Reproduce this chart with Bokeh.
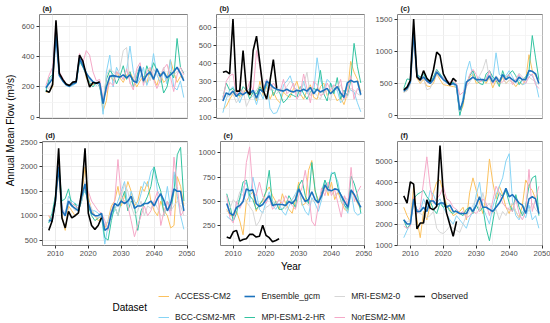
import math
from bokeh.plotting import figure
from bokeh.models import Range1d, FixedTicker, LinearAxis, Grid, Label, Legend, LegendItem
from bokeh.layouts import row, column
from bokeh.embed import file_html
from bokeh.resources import INLINE

# ---------------- data ----------------
years = list(range(2008, 2050))
obs_years = list(range(2008, 2025))
year_ticks = [2010, 2020, 2030, 2040, 2050]

series = ["ACCESS-CM2", "BCC-CSM2-MR", "Ensemble_gcm", "MPI-ESM1-2-HR", "MRI-ESM2-0", "NorESM2-MM", "Observed"]

# (a)
a_access = [165,170,200,600,280,240,215,205,220,230,380,360,260,215,215,230,220, 40,110,280,240,300,260,230,280,300,250,200,240,270,220,320,260,210,290,230,250,380,300,230,270,250]
a_bcc = [190,240,270,560,290,240,210,200,210,225,390,350,300,250,230,210,230, 20,300,410,200,330,280,250,310,470,300,220,260,330,210,270,420,280,230,300,220,380,200,180,240,130]
a_mpi = [170,260,280,610,290,250,215,210,225,230,370,330,280,230,200,230,200, 90,250,310,280,220,270,340,250,300,200,270,340,230,340,280,360,310,280,160,200,300,260,520,330,290]
a_mri = [200,190,230,590,280,250,220,205,220,235,400,350,270,240,230,220,210, 100,280,320,300,280,320,440,460,220,260,300,340,240,290,240,320,280,270,330,250,310,280,300,300,260]
a_nor = [210,280,330,630,300,260,220,210,230,240,420,360,440,410,300,240,250, 120,170,230,210,300,280,250,320,230,180,320,360,210,300,330,250,190,240,320,350,270,170,280,330,280]
a_ens = [195,225,255,540,275,240,215,205,220,230,390,340,290,260,235,225,225, 90,200,270,275,270,265,280,260,280,240,230,335,240,280,300,250,320,270,300,260,280,300,330,290,240]
a_obs = [175,165,215,640,290,250,220,210,232,235,410,370,280,200,230,225,235]

# (b)
b_access = [145,160,200,230,250,210,230,260,220,250,190,300,220,270,200,240,200, 180,240,220,210,260,300,230,200,250,280,210,200,270,290,220,250,230,190,210,170,230,410,350,310,240]
b_bcc = [125,200,250,270,230,180,230,240,260,230,170,240,200,310,150,120,125, 170,280,300,330,270,250,220,300,230,260,240,430,310,250,310,290,260,250,180,200,290,250,240,180,130]
b_mpi = [210,290,250,260,230,220,270,250,200,240,230,270,240,280,300,220,260, 230,180,200,230,220,210,270,230,200,240,260,250,360,230,190,290,230,320,200,250,220,300,510,380,290]
b_mri = [230,210,220,230,180,210,250,160,200,220,250,280,260,240,270,250,230, 260,250,270,300,280,230,260,280,350,220,240,220,200,260,230,190,280,250,280,230,210,260,250,230,220]
b_nor = [200,300,330,340,220,260,230,240,300,240,470,380,250,310,250,290,260, 240,310,230,250,290,200,230,340,260,180,300,280,220,230,290,250,280,260,310,200,230,330,200,260,240]
b_ens = [190,235,225,245,215,235,225,240,230,250,205,255,240,300,285,265,255, 250,245,255,245,240,250,245,255,245,265,230,255,240,250,260,230,250,270,235,210,290,305,295,300,225]
b_obs = [350,355,340,645,245,245,470,250,225,470,550,400,250,200,300,420,260]

# (c)
c_access = [360,400,500,1200,580,500,560,460,450,500,650,560,480,470,460,450,440, 30,150,480,600,650,500,520,550,500,600,430,550,480,600,500,550,520,450,520,480,550,950,700,620,540]
c_bcc = [370,450,550,1250,600,570,620,560,520,580,700,640,600,540,500,490,420, 0,300,680,850,600,550,600,520,580,700,560,980,640,600,620,700,600,520,560,480,500,650,620,520,280]
c_mpi = [420,570,560,1350,650,600,650,560,500,600,720,650,560,540,500,520,480, 0,200,500,620,700,560,500,480,650,700,600,550,450,700,560,650,700,620,480,560,600,700,1250,900,560]
c_mri = [360,380,480,1250,600,520,580,400,420,540,640,600,560,520,480,500,480, 60,220,450,520,600,560,620,720,880,560,500,620,560,620,500,550,520,560,660,600,540,600,560,520,480]
c_nor = [390,440,540,1280,620,560,600,520,500,560,700,620,580,560,520,540,500, 320,360,460,640,720,640,520,560,560,700,500,560,520,520,600,640,480,560,640,540,500,600,650,480,420]
c_ens = [380,420,520,1300,620,560,600,540,500,560,680,620,560,520,480,500,470, 80,220,520,560,600,560,560,560,540,620,520,600,520,640,560,600,560,520,600,560,560,700,690,650,500]
c_obs = [400,440,550,1510,600,550,700,580,530,710,990,940,650,550,475,580,530]

# (d)
d_access = [1000,880,1300,1900,1000,700,1200,1100,1000,1050,1400,2000,1400,1100,1000,900,950, 750,900,1200,1300,1600,1200,1400,1700,1500,1200,1300,1600,1500,1700,1300,1100,1000,1300,1100,1000,750,800,1800,1600,1200]
d_bcc = [900,950,1350,2050,1150,1050,1400,1300,1250,1200,1400,1500,1300,1100,1100,1050,1000, 420,800,1000,1100,1300,1500,1700,1200,1500,1300,1200,1450,1700,1600,1900,2000,1500,1400,1200,1600,1100,1900,1400,1000,720]
d_mpi = [850,1050,1400,2100,1300,1350,1550,1200,1250,1100,1300,1600,1200,1000,900,950,1000, 550,500,900,1200,1000,1300,1500,1100,1300,1200,700,1100,1250,1400,1600,2000,1700,1500,1000,1300,1100,1500,2250,2400,1300]
d_mri = [900,900,1250,2000,1100,1000,1250,1200,1100,1150,1300,1700,1300,1150,1000,950,1000, 800,900,1100,1200,1000,1400,1650,1500,1200,1000,1100,1300,1000,1200,1150,1300,1150,1000,1000,1300,1100,1200,1300,1200,1000]
d_nor = [1000,950,1300,2050,1150,1000,1300,1250,1200,1150,1450,1550,1500,1300,1200,1100,1050, 900,700,1100,1300,2150,1400,1300,1200,900,570,800,1000,1200,1000,1100,1300,1500,800,1100,1300,1000,2200,1600,1000,1100]
d_ens = [900,900,1300,2000,1100,1000,1300,1200,1150,1100,1400,1650,1250,1050,1000,1000,1050, 700,750,1050,1250,1200,1300,1250,1300,1400,1150,1200,1200,1250,1250,1300,1200,1350,1450,1300,1100,1250,1550,1500,1500,1100]
d_obs = [700,885,1300,2380,955,750,1090,955,1000,1060,1500,2380,1050,800,720,800,960]

# (e)
e_access = [420,360,350,400,300,160,500,560,600,400,480,500,600,650,560,500,420, 580,480,420,380,520,700,460,480,820,920,600,520,540,680,560,700,520,600,500,420,400,600,560,480,420]
e_bcc = [350,320,300,500,520,640,700,500,750,600,420,380,500,600,460,420,480, 400,360,450,520,580,640,480,400,360,540,480,400,520,720,600,800,780,700,500,460,380,600,400,360,380]
e_mpi = [580,460,300,380,540,700,720,560,520,420,460,520,600,820,460,500,420, 420,460,560,500,440,660,720,560,480,900,620,480,600,720,640,780,800,640,560,460,420,760,680,560,380]
e_mri = [400,430,520,480,600,560,500,450,400,250,300,400,440,460,500,480,520, 480,420,500,520,560,600,540,500,460,520,500,480,560,620,600,600,560,600,560,540,520,580,560,520,500]
e_nor = [560,330,280,500,430,500,900,1060,600,560,700,560,480,560,420,460,520, 480,560,500,460,420,560,640,820,600,300,250,460,640,560,700,560,620,480,340,560,460,850,500,600,660]
e_ens = [480,380,360,440,460,500,630,610,620,480,450,470,520,560,460,470,470, 470,460,500,480,520,630,560,500,520,600,520,490,560,670,620,610,630,620,560,500,440,620,570,500,440]
e_obs = [136,123,190,205,95,112,120,164,164,136,145,257,154,130,88,102,119]

# (f)
f_access = [2800,2400,2100,3800,2200,1350,2600,2200,2900,3500,4000,4100,3500,2900,2700,2400,2500, 2600,2800,2200,3500,4200,3600,3000,2500,3400,5100,4000,3200,3800,3400,2800,2500,3000,2600,2300,2900,4100,3800,3600,3200,2600]
f_bcc = [1350,1700,2000,3000,2700,2600,3200,2800,3600,3400,3000,3200,2800,2500,2200,2000,2400, 2200,2000,1800,2300,2600,3400,4000,2800,2400,2000,2800,3400,3800,4200,5000,5350,3100,2400,2200,2600,2300,2900,2200,2400,1800]
f_mpi = [2200,1800,2000,3200,3400,3500,3600,3300,3100,2700,2500,3000,2800,2900,2600,2500,2700, 2500,2400,2700,2800,2500,2900,2600,2800,1800,1200,2100,3000,3500,3300,3600,3000,2600,3400,2800,2400,2900,3800,4200,4300,2400]
f_mri = [2000,2100,2200,2900,2600,2500,2400,2300,2400,2600,1800,1600,1550,1700,1900,1800,1700, 1600,2000,2400,2600,2900,3200,2600,3500,2800,3000,2500,2700,2200,2600,2400,2800,3000,2600,2300,2500,2800,2600,3000,2700,2500]
f_nor = [1900,1800,1900,3300,2500,2800,4000,5200,3800,3000,3200,3400,3800,3200,3100,2800,2700, 2500,2600,2300,2400,2600,2500,2700,3200,3000,2400,3100,3800,3500,3000,2800,2700,2600,3200,2500,2200,2600,4600,2600,3200,3800]
f_ens = [2200,2000,2000,3200,2600,2600,2800,2600,3100,3100,2900,3000,3000,2800,2900,2600,2600, 2500,2500,2500,2800,2600,2900,3300,2800,2800,2700,2600,2800,3000,3300,3700,3300,3400,3200,3000,2900,2500,3200,3300,3200,2500]
f_obs = [3340,3000,4010,3900,1770,2050,2050,3150,2760,2680,2850,5740,3460,2520,1970,1420,2130]

panel_labels = ["(a)", "(b)", "(c)", "(d)", "(e)", "(f)"]
panel_data = [
    [a_access, a_bcc, a_ens, a_mpi, a_mri, a_nor, a_obs],
    [b_access, b_bcc, b_ens, b_mpi, b_mri, b_nor, b_obs],
    [c_access, c_bcc, c_ens, c_mpi, c_mri, c_nor, c_obs],
    [d_access, d_bcc, d_ens, d_mpi, d_mri, d_nor, d_obs],
    [e_access, e_bcc, e_ens, e_mpi, e_mri, e_nor, e_obs],
    [f_access, f_bcc, f_ens, f_mpi, f_mri, f_nor, f_obs],
]
y_limits = [(-8, 678), (93, 670), (-50, 1580), (390, 2520), (50, 1115), (980, 5930)]
y_ticks = [[0, 200, 400, 600], [100, 200, 300, 400, 500, 600], [0, 500, 1000, 1500],
           [500, 1000, 1500, 2000, 2500], [250, 500, 750, 1000], [1000, 2000, 3000, 4000, 5000]]
y_minor = [[100, 300, 500], [150, 250, 350, 450, 550, 650], [250, 750, 1250],
           [750, 1250, 1750, 2250], [125, 375, 625, 875], [1500, 2500, 3500, 4500, 5500]]

# ---------------- style ----------------
colors = {
    "ACCESS-CM2": "#FBC15E",
    "BCC-CSM2-MR": "#86D4F5",
    "Ensemble_gcm": "#1C72BD",
    "MPI-ESM1-2-HR": "#33C3A0",
    "MRI-ESM2-0": "#D6D6D6",
    "NorESM2-MM": "#F5A9C8",
    "Observed": "#000000",
}
widths = {"Ensemble_gcm": 1.6, "Observed": 1.6}
draw_order = ["ACCESS-CM2", "BCC-CSM2-MR", "MPI-ESM1-2-HR", "MRI-ESM2-0", "NorESM2-MM", "Ensemble_gcm", "Observed"]
FONT = "Liberation Sans"

YT_W = 17
col_left = [22, 21, 22]
col_right = [8, 8, 8]
FRAME_W = 148
ROW1_TOP, ROW1_BOT = 14, 6
ROW2_TOP, ROW2_BOT = 17, 15
FRAME_H = 104
ROW1_H = ROW1_TOP + FRAME_H + ROW1_BOT
ROW2_H = ROW2_TOP + FRAME_H + ROW2_BOT
TOTAL_H = 323
BOT_H = TOTAL_H - ROW1_H - ROW2_H


def make_panel(i):
    r, c = divmod(i, 3)
    top = ROW1_TOP if r == 0 else ROW2_TOP
    bot = ROW1_BOT if r == 0 else ROW2_BOT
    h = ROW1_H if r == 0 else ROW2_H
    w = col_left[c] + FRAME_W + col_right[c]
    p = figure(width=w, height=h, x_range=Range1d(2006.1, 2050.1), y_range=Range1d(*y_limits[i]),
               output_backend="svg", toolbar_location=None, x_axis_location=None, y_axis_location=None,
               min_border_left=col_left[c], min_border_right=col_right[c],
               min_border_top=top, min_border_bottom=bot, title=panel_labels[i])
    for g in p.grid:
        g.visible = False
    p.background_fill_color = "white"
    p.border_fill_color = "white"
    p.outline_line_color = "#808080"
    p.outline_line_width = 1
    p.title.text_font = FONT
    p.title.text_font_size = "7.5px"
    p.title.text_font_style = "bold"
    p.title.text_color = "#1A1A1A"
    p.title.align = "left"
    p.title.offset = 3
    p.title.standoff = 3

    xt = FixedTicker(ticks=year_ticks, minor_ticks=[2015, 2025, 2035, 2045])
    yt = FixedTicker(ticks=y_ticks[i], minor_ticks=y_minor[i])
    for dim, tk in ((0, xt), (1, yt)):
        p.add_layout(Grid(dimension=dim, ticker=tk, grid_line_color="#EBEBEB", grid_line_width=1,
                          minor_grid_line_color="#F3F3F3", minor_grid_line_width=0.8))

    def style_axis(ax):
        ax.axis_line_color = None
        ax.major_tick_out = 3
        ax.major_tick_in = 0
        ax.major_tick_line_color = "#333333"
        ax.minor_tick_line_color = None
        ax.major_label_text_font = FONT
        ax.major_label_text_font_size = "7.6px"
        ax.major_label_text_color = "#4D4D4D"
        ax.major_label_standoff = 1

    yax = LinearAxis(ticker=yt)
    style_axis(yax)
    p.add_layout(yax, "left")
    if r == 1:
        xax = LinearAxis(ticker=xt)
        style_axis(xax)
        p.add_layout(xax, "below")

    data = dict(zip(series, panel_data[i]))
    for name in draw_order:
        xs = obs_years if name == "Observed" else years
        p.line(xs, data[name], line_color=colors[name], line_width=widths.get(name, 1.0))
    return p


panels = [make_panel(i) for i in range(6)]

# y-axis title figure
YT_H = ROW1_H + ROW2_H
ytf = figure(width=YT_W, height=YT_H, output_backend="svg", toolbar_location=None,
             x_axis_location=None, y_axis_location=None, min_border=0,
             x_range=Range1d(0, 1), y_range=Range1d(0, 1))
for g in ytf.grid:
    g.visible = False
ytf.outline_line_color = None
ytf.add_layout(Label(x=10, y=YT_H - 130, x_units="screen", y_units="screen",
                     text="Annual Mean Flow (m³/s)", angle=math.pi / 2, text_align="center",
                     text_baseline="middle", text_font=FONT, text_font_size="10px", text_color="#000000"))

# bottom figure: x title + legend
total_w = YT_W + sum(col_left) + sum(col_right) + 3 * FRAME_W
bf = figure(width=total_w, height=BOT_H, output_backend="svg", toolbar_location=None,
            x_axis_location=None, y_axis_location=None, min_border=0,
            x_range=Range1d(0, 1), y_range=Range1d(0, 1))
for g in bf.grid:
    g.visible = False
bf.outline_line_color = None
frames_left = YT_W + col_left[0]
frames_right = total_w - col_right[2]
bf.add_layout(Label(x=(frames_left + frames_right) / 2, y=TOTAL_H - 266, x_units="screen", y_units="screen",
                    text="Year", text_align="center", text_baseline="middle",
                    text_font=FONT, text_font_size="10px", text_color="#000000"))
bf.add_layout(Label(x=112, y=TOTAL_H - 307, x_units="screen", y_units="screen", text="Dataset",
                    text_align="left", text_baseline="middle", text_font=FONT,
                    text_font_size="10px", text_color="#000000"))
items = []
for name in series:
    rr = bf.line([-10, -9], [-10, -9], line_color=colors[name], line_width=widths.get(name, 1.0))
    items.append(LegendItem(label=name, renderers=[rr]))
leg = Legend(items=items, location=(158, 0), orientation="vertical", nrows=2,
             glyph_width=11, glyph_height=12, label_height=12, label_standoff=6, spacing=9,
             padding=0, margin=0, border_line_color=None, background_fill_alpha=0,
             label_text_font=FONT, label_text_font_size="8.5px", label_text_color="#1A1A1A",
             label_text_baseline="middle")
bf.add_layout(leg)

grid = column(row(ytf, column(row(*panels[:3]), row(*panels[3:]))), bf)

open("out.html", "w").write(file_html(grid, INLINE))
